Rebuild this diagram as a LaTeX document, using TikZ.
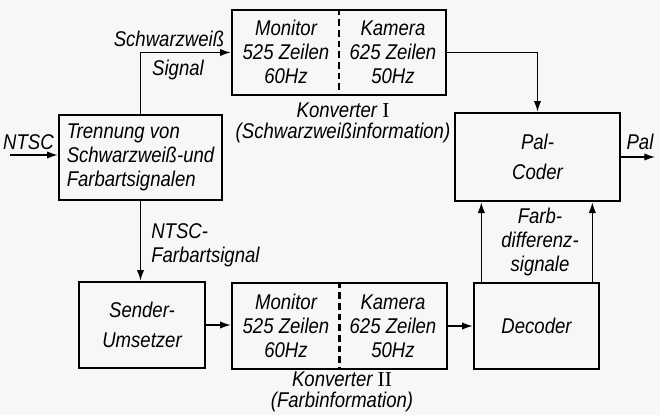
\documentclass[tikz,border=0pt]{standalone}
\usepackage{fontspec}
\setmainfont{Liberation Sans}[FakeStretch=0.87]
\newfontfamily\numfont{Liberation Serif}
\usetikzlibrary{arrows.meta}

\begin{document}
\begin{tikzpicture}[
    x=0.75pt, y=-0.75pt,
    every node/.style={font=\fontsize{16}{18}\selectfont\itshape},
    box/.style={draw, line width=2pt, inner sep=0pt, align=center},
    wide/.style={font=\fontsize{16}{22}\selectfont\itshape},
    tight/.style={font=\fontsize{16}{16}\selectfont\itshape},
    arrow/.style={-{Latex[length=8pt, width=5.5pt]}, line width=1pt},
    label/.style={inner sep=0pt, align=center}
  ]

  % Background
  \fill[gray!6] (0,0) rectangle (660,415);
  \useasboundingbox (0,0) rectangle (660,415);

  % Blocks
  \node[box, minimum width=122.25pt, minimum height=63.75pt, align=left] (trenn) at (140.5,157.5)
    {Trennung von\\Schwarzweiß-und\\Farbartsignalen};
  \node[box, minimum width=160.5pt, minimum height=63.75pt] (kon1) at (339,52.5) {};
  \node[box, wide, minimum width=123.75pt, minimum height=66pt] (pal) at (537.5,157) {Pal-\\Coder};
  \node[box, wide, minimum width=94.5pt, minimum height=64.5pt] (send) at (142,325) {Sender-\\Umsetzer};
  \node[box, minimum width=161.25pt, minimum height=64.5pt] (kon2) at (339.5,326) {};
  \node[box, minimum width=93.75pt, minimum height=64.5pt] (dec) at (536.5,326) {Decoder};

  % Converter halves
  \foreach \k/\y in {kon1/52, kon2/326} {
      \node[label] (\k mon) at (286,\y) {Monitor\\525 Zeilen\\60Hz};
      \node[label] (\k kam) at (393,\y) {Kamera\\625 Zeilen\\50Hz};
      \draw[line width=1.6pt, dash pattern=on 5pt off 3pt] (\k.north) -- (\k.south);
    }

  % Signal paths
  \coordinate (ntscin) at (10,155);
  \coordinate (palout) at (655,157);
  \draw[arrow] (ntscin) -- (ntscin -| trenn.west);
  \draw[arrow] (trenn.north) |- (kon1.west);
  \draw[arrow] (kon1.east) -| (pal.north);
  \draw[arrow] (pal.east) -- (palout);
  \draw[arrow] (trenn.south) -- (trenn.south |- send.north);
  \draw[arrow] (send.east) -- (send.east -| kon2.west);
  \draw[arrow] (kon2.east) -- (kon2.east -| dec.west);
  \draw[arrow] ([xshift=6.5pt]dec.north west) -- ([xshift=6.5pt]dec.north west |- pal.south);
  \draw[arrow] ([xshift=-6pt]dec.north east) -- ([xshift=-6pt]dec.north east |- pal.south);

  % Labels
  \node[label] (ntsc) at (28.5,142) {NTSC};
  \node[label] (swtop) at (169,39) {Schwarzweiß};
  \node[label] (swbot) at (178,70) {Signal};
  \node[label, tight] (k1txt) at (343,123) {Konverter {\numfont\upshape I}\\(Schwarzweißinformation)};
  \node[label] (paltxt) at (640,142) {Pal};
  \node[label, align=left, anchor=west] (farbart) at (151,245) {NTSC-\\Farbartsignal};
  \node[label] (diff) at (540,242) {Farb-\\differenz-\\signale};
  \node[label, tight] (k2txt) at (342,392) {Konverter {\numfont\upshape II}\\(Farbinformation)};

\end{tikzpicture}
\end{document}
